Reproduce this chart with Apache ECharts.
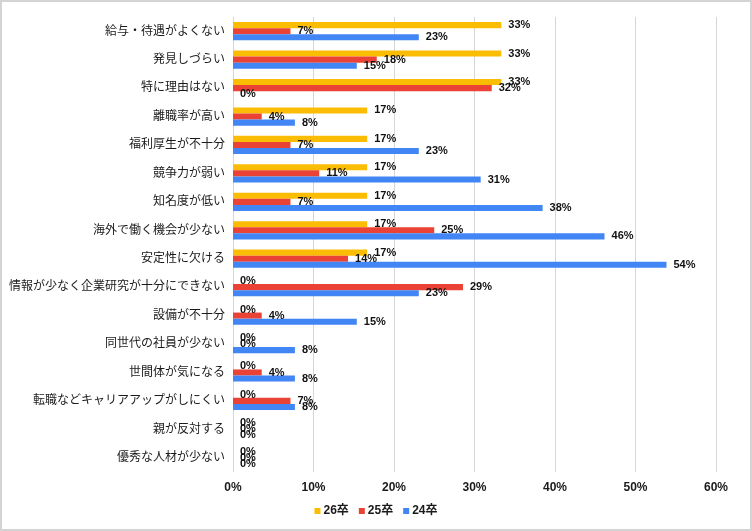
<!DOCTYPE html>
<html>
<head>
<meta charset="utf-8">
<script src="https://cdn.jsdelivr.net/npm/echarts@6/dist/echarts.min.js"></script>
<style>
  html, body { margin: 0; padding: 0; background: #fff; }
  #chart { width: 752px; height: 531px; box-sizing: border-box; border: 2px solid #d4d4d4; }
</style>
</head>
<body>
<div id="chart"></div>
<script>
// 辞退理由（複数回答）
const categories = [
  '給与・待遇がよくない', '発見しづらい', '特に理由はない', '離職率が高い',
  '福利厚生が不十分', '競争力が弱い', '知名度が低い', '海外で働く機会が少ない',
  '安定性に欠ける', '情報が少なく企業研究が十分にできない', '設備が不十分',
  '同世代の社員が少ない', '世間体が気になる', '転職などキャリアアップがしにくい',
  '親が反対する', '優秀な人材が少ない'
];
const seriesNames = ['26卒', '25卒', '24卒'];
const grad26 = [33.33, 33.33, 33.33, 16.67, 16.67, 16.67, 16.67, 16.67, 16.67, 0, 0, 0, 0, 0, 0, 0];
const grad25 = [7.14, 17.86, 32.14, 3.57, 7.14, 10.71, 7.14, 25.0, 14.29, 28.57, 3.57, 0, 3.57, 7.14, 0, 0];
const grad24 = [23.08, 15.38, 0, 7.69, 23.08, 30.77, 38.46, 46.15, 53.85, 23.08, 15.38, 7.69, 7.69, 7.69, 0, 0];
const xTicks = [0, 10, 20, 30, 40, 50, 60];

const colors = ['#FBBC04', '#EA4335', '#4285F4'];
const font = 'Arial, "Liberation Sans", "Noto Sans CJK JP", sans-serif';

const chart = echarts.init(document.getElementById('chart'));

const makeSeries = (name, data) => ({
  name,
  type: 'bar',
  data,
  barGap: '0%',
  barCategoryGap: '36%',
  label: {
    show: true,
    position: 'right',
    distance: 7,
    color: '#111',
    fontSize: 11,
    fontWeight: 'bold',
    fontFamily: font,
    formatter: p => Math.round(p.value) + '%'
  }
});

chart.setOption({
  color: colors,
  animation: false,
  textStyle: { fontFamily: font },
  grid: {
    top: 15,
    bottom: 57,
    left: 231,
    right: 34
  },
  xAxis: {
    type: 'value',
    min: xTicks[0],
    max: xTicks[xTicks.length - 1],
    interval: 10,
    axisLine: { show: false },
    axisTick: { show: false },
    axisLabel: {
      color: '#1a1a1a',
      fontSize: 12,
      fontWeight: 'bold',
      margin: 10,
      formatter: v => v + '%'
    },
    splitLine: { lineStyle: { color: '#d6d6d6' } }
  },
  yAxis: {
    type: 'category',
    inverse: true,
    data: categories,
    axisLine: { show: false },
    axisTick: { show: false },
    axisLabel: {
      color: '#1a1a1a',
      fontSize: 12,
      margin: 8
    }
  },
  legend: {
    bottom: 7,
    left: 'center',
    itemWidth: 6,
    itemHeight: 6,
    itemGap: 10,
    icon: 'rect',
    textStyle: { fontSize: 12, fontWeight: 'bold', color: '#1a1a1a', padding: [0, 0, 0, -2] },
    data: seriesNames
  },
  series: [
    makeSeries(seriesNames[0], grad26),
    makeSeries(seriesNames[1], grad25),
    makeSeries(seriesNames[2], grad24)
  ]
});
</script>
</body>
</html>
